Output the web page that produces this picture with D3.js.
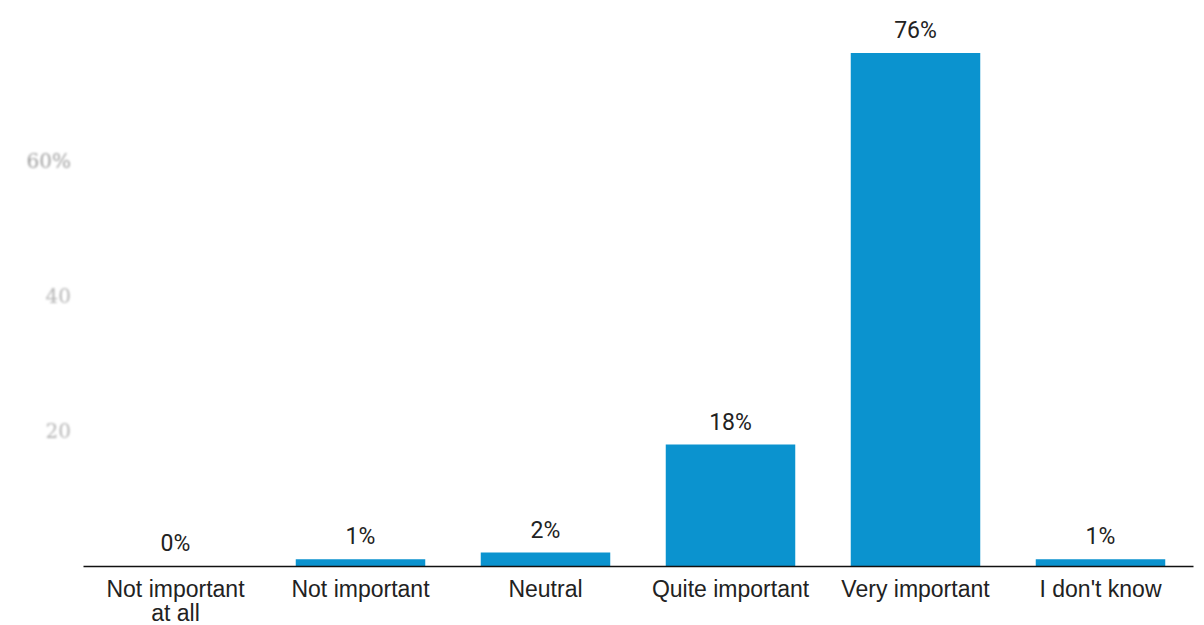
<!DOCTYPE html>
<html>
<head>
<meta charset="utf-8">
<script src="https://cdn.jsdelivr.net/npm/d3@7/dist/d3.min.js"></script>
<style>
  html, body { margin: 0; padding: 0; background: #fff; }
  svg { display: block; font-family: Roboto, "Noto Sans", sans-serif; }
</style>
</head>
<body>
<svg id="chart" width="1204" height="625"></svg>
<script>
// Survey answers and their shares (percent)
const categories = ["Not important at all", "Not important", "Neutral", "Quite important", "Very important", "I don't know"];
const categoryLines = [["Not important", "at all"], ["Not important"], ["Neutral"], ["Quite important"], ["Very important"], ["I don't know"]];
const values = [0, 1, 2, 18, 76, 1];
const valueLabels = ["0%", "1%", "2%", "18%", "76%", "1%"];
// Faded gridline labels on the left
const tickValues = [20, 40, 60];
const tickLabels = ["20", "40", "60%"];

const svg = d3.select("#chart");

const x = d3.scaleBand()
  .domain(categories)
  .range([83, 1193])
  .paddingInner(0.3)
  .paddingOuter(0.15);

const y = d3.scaleLinear()
  .domain([0, 80])
  .range([566, 26]);

const defs = svg.append("defs");
defs.append("filter").attr("id", "soft")
  .attr("x", "-20%").attr("y", "-40%").attr("width", "140%").attr("height", "180%")
  .append("feGaussianBlur").attr("stdDeviation", 1.1);

// faint y labels
const yAxis = d3.axisLeft(y)
  .tickValues(tickValues)
  .tickSize(0)
  .tickPadding(0)
  .tickFormat((d, i) => tickLabels[i]);

const yg = svg.append("g")
  .attr("transform", "translate(71,0)")
  .call(yAxis);
yg.select(".domain").remove();
yg.selectAll("text")
  .attr("fill", d => d === 60 ? "#a0a0a0" : "#b4b4b4")
  .attr("font-family", "'DejaVu Serif', serif")
  .attr("font-size", 20)
  .attr("filter", "url(#soft)");

// bars
svg.append("g").selectAll("rect")
  .data(values)
  .join("rect")
  .attr("x", (d, i) => x(categories[i]))
  .attr("width", x.bandwidth())
  .attr("y", d => y(d))
  .attr("height", d => y(0) - y(d))
  .attr("fill", "#0b93cf");

// value labels
svg.append("g").selectAll("text")
  .data(values)
  .join("text")
  .attr("x", (d, i) => x(categories[i]) + x.bandwidth() / 2)
  .attr("y", d => y(d) - 15)
  .attr("text-anchor", "middle")
  .attr("font-size", 23)
  .attr("fill", "#222")
  .text((d, i) => valueLabels[i]);

// x axis
const xAxis = d3.axisBottom(x).tickSize(0).tickFormat("");
const xg = svg.append("g")
  .attr("transform", `translate(0,${y(0)})`)
  .call(xAxis);
xg.select(".domain")
  .attr("stroke", "#111")
  .attr("stroke-width", 1.5);

xg.selectAll(".tick").each(function(d, i) {
  const t = d3.select(this).append("text")
    .attr("text-anchor", "middle")
    .attr("font-size", 23)
    .attr("fill", "#222");
  categoryLines[i].forEach((line, j) => {
    t.append("tspan")
      .attr("x", 0)
      .attr("y", 31 + j * 24)
      .text(line);
  });
});
</script>
</body>
</html>
